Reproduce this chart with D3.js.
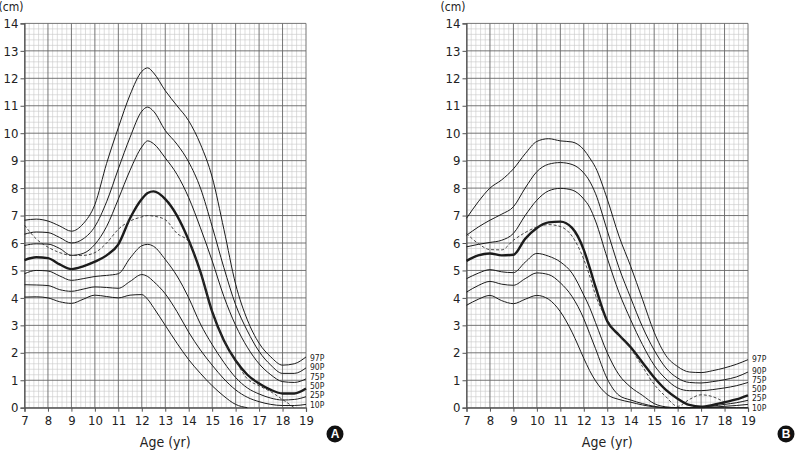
<!DOCTYPE html>
<html>
<head>
<meta charset="utf-8">
<script src="https://cdn.jsdelivr.net/npm/d3@7"></script>
<style>
  body { margin: 0; background: #fff; }
  svg { display: block; }
  text { font-family: 'Liberation Sans Narrow', 'DejaVu Sans Condensed', sans-serif; fill: #222; }
</style>
</head>
<body>
<svg width="796" height="451"></svg>
<script>
const ages = [7, 7.5, 8, 8.5, 9, 9.5, 10, 10.5, 11, 11.5, 12, 12.25, 12.5, 13, 13.5, 14, 14.5, 15, 15.5, 16, 16.5, 17, 17.5, 18, 18.5, 19];
const pctLabels = ['97P', '90P', '75P', '50P', '25P', '10P'];

// panel A
const a97 = [6.83, 6.87, 6.8, 6.62, 6.43, 6.7, 7.4, 8.9, 10.2, 11.4, 12.25, 12.38, 12.2, 11.55, 11.0, 10.45, 9.6, 8.4, 6.5, 4.5, 3.2, 2.35, 1.85, 1.55, 1.6, 1.85];
const a90 = [6.32, 6.4, 6.38, 6.2, 6.0, 6.15, 6.6, 7.5, 8.7, 9.85, 10.8, 10.95, 10.8, 10.1, 9.6, 8.95, 8.0, 6.6, 5.1, 3.75, 2.8, 2.05, 1.55, 1.25, 1.25, 1.45];
const a75 = [5.91, 5.97, 5.96, 5.8, 5.55, 5.62, 5.95, 6.6, 7.6, 8.65, 9.5, 9.72, 9.62, 9.1, 8.5, 7.65, 6.55, 5.35, 4.05, 3.0, 2.2, 1.6, 1.2, 0.95, 0.92, 1.05];
const a50 = [5.38, 5.48, 5.45, 5.22, 5.05, 5.15, 5.32, 5.55, 5.95, 6.9, 7.6, 7.82, 7.88, 7.6, 7.0, 6.1, 4.95, 3.5, 2.45, 1.72, 1.2, 0.88, 0.65, 0.52, 0.52, 0.7];
const a25 = [4.88, 5.0, 4.98, 4.8, 4.64, 4.7, 4.78, 4.82, 4.88, 5.45, 5.9, 5.95, 5.88, 5.4, 4.8, 4.0, 3.05, 2.3, 1.65, 1.1, 0.72, 0.5, 0.35, 0.28, 0.3, 0.4];
const a10 = [4.48, 4.47, 4.45, 4.3, 4.24, 4.32, 4.4, 4.38, 4.35, 4.6, 4.85, 4.78, 4.6, 4.15, 3.5, 2.75, 2.1, 1.55, 1.05, 0.65, 0.38, 0.22, 0.12, 0.08, 0.08, 0.12];
const a3 = [4.03, 4.04, 4.0, 3.86, 3.8, 3.95, 4.1, 4.05, 4.0, 4.1, 4.12, 3.95, 3.65, 3.0, 2.35, 1.75, 1.25, 0.8, 0.42, 0.12, 0, null, null, null, null, null];
const aDashed = [6.65, 6.15, 5.85, 5.65, 5.55, 5.55, 5.65, 6.0, 6.5, 6.8, 6.95, 7.0, 6.98, 6.85, 6.35, 6.05, 4.95, 3.5, 2.45, 1.72, 1.05, 0.8, 0.58, 0.3, 0, null];
const aLabelAt = [1.81, 1.48, 1.12, 0.79, 0.46, 0.1];

// panel B
const b97 = [6.9, 7.5, 8.0, 8.3, 8.7, 9.25, 9.7, 9.8, 9.72, 9.68, 9.4, 9.1, 8.75, 7.6, 6.25, 5.15, 3.95, 2.75, 1.9, 1.5, 1.3, 1.28, 1.35, 1.45, 1.58, 1.75];
const b90 = [6.28, 6.58, 6.83, 7.05, 7.32, 8.0, 8.6, 8.87, 8.93, 8.86, 8.55, 8.25, 7.8, 6.45, 5.1, 4.0, 2.95, 2.1, 1.45, 1.08, 0.92, 0.9, 0.95, 1.02, 1.12, 1.3];
const b75 = [5.86, 5.95, 6.02, 6.1, 6.35, 7.0, 7.56, 7.9, 7.99, 7.93, 7.6, 7.3, 6.8, 5.45, 4.2, 3.2, 2.3, 1.55, 1.05, 0.72, 0.62, 0.62, 0.66, 0.72, 0.8, 0.92];
const b50 = [5.35, 5.55, 5.62, 5.55, 5.57, 6.15, 6.55, 6.75, 6.78, 6.55, 5.75, 5.1, 4.4, 3.15, 2.65, 2.2, 1.65, 1.1, 0.65, 0.33, 0.1, 0.04, 0.1, 0.2, 0.3, 0.45];
const b25 = [4.7, 4.9, 5.03, 4.95, 4.92, 5.3, 5.62, 5.52, 5.31, 4.9, 4.1, 3.65, 3.1, 2.0, 1.2, 0.75, 0.45, 0.15, 0.03, 0, 0, 0.03, 0.06, 0.12, 0.18, 0.27];
const b10 = [4.21, 4.45, 4.6, 4.5, 4.46, 4.7, 4.91, 4.85, 4.55, 4.05, 3.24, 2.7, 2.15, 1.05, 0.45, 0.28, 0.15, 0.05, 0, 0, 0, 0, 0.02, 0.05, 0.08, 0.12];
const b3 = [3.73, 3.95, 4.09, 3.9, 3.79, 3.95, 4.09, 3.95, 3.5, 2.75, 1.8, 1.35, 0.98, 0.48, 0.3, 0.2, 0.1, 0.03, 0, 0, 0, 0, 0, 0, 0, 0];
const bDashed = [6.35, 5.98, 5.76, 5.75, 6.1, 6.38, 6.58, 6.67, 6.6, 6.25, 5.4, 4.8, 4.1, 3.2, 2.65, 2.15, 1.5, 0.85, 0.4, 0.05, 0.3, 0.47, 0.4, 0.2, null, null];
const bLabelAt = [1.76, 1.32, 1.0, 0.68, 0.34, 0.0];

const svg = d3.select('svg');

var plotTop = 23.4, plotBottom = 407.7, plotWidth = 281.5;

const yScale = d3.scaleLinear()
    .domain([0, 14])
    .range([plotBottom, plotTop]);

const drawPanel = function(x0, curves, dashed, labelAt, letter, badgeX) {

    var xScale = d3.scaleLinear()
        .domain([7, 19])
        .range([x0, x0 + plotWidth]);

    var g = svg.append('g');

    // minor grid (0.2 steps)
    var minorX = d3.range(7, 19.001, 0.2).filter(v => Math.abs(v - Math.round(v)) > 0.01);
    var minorY = d3.range(0, 14.001, 0.2).filter(v => Math.abs(v - Math.round(v)) > 0.01);

    g.selectAll('.minx').data(minorX).enter().append('line')
        .attr('x1', d => xScale(d)).attr('x2', d => xScale(d))
        .attr('y1', plotTop).attr('y2', plotBottom)
        .style('stroke', '#c8c8c8').style('stroke-width', 0.6);

    g.selectAll('.miny').data(minorY).enter().append('line')
        .attr('x1', x0).attr('x2', x0 + plotWidth)
        .attr('y1', d => yScale(d)).attr('y2', d => yScale(d))
        .style('stroke', '#c8c8c8').style('stroke-width', 0.6);

    // major grid
    g.selectAll('.majx').data(d3.range(7, 20)).enter().append('line')
        .attr('x1', d => xScale(d)).attr('x2', d => xScale(d))
        .attr('y1', plotTop).attr('y2', plotBottom)
        .style('stroke', '#666').style('stroke-width', 0.9);

    g.selectAll('.majy').data(d3.range(0, 15)).enter().append('line')
        .attr('x1', x0).attr('x2', x0 + plotWidth)
        .attr('y1', d => yScale(d)).attr('y2', d => yScale(d))
        .style('stroke', '#666').style('stroke-width', 0.9);

    // axes
    var xAxis = g.append('g')
        .attr('transform', `translate(0,${plotBottom})`)
        .call(d3.axisBottom(xScale).ticks(12).tickSize(4).tickPadding(4).tickFormat(d3.format('d')));
    var yAxis = g.append('g')
        .attr('transform', `translate(${x0},0)`)
        .call(d3.axisLeft(yScale).ticks(14).tickSize(4).tickPadding(2).tickFormat(d3.format('d')));

    [xAxis, yAxis].forEach(function(ax) {
        ax.select('.domain').style('stroke', '#555').style('stroke-width', 1.2);
        ax.selectAll('.tick line').style('stroke', '#555');
        ax.selectAll('text')
            .style('font-size', '13px')
            .style('font-family', "'Liberation Sans Narrow', 'DejaVu Sans Condensed', sans-serif")
            .style('fill', '#222');
    });

    g.append('text')
        .attr('x', x0 - 1)
        .attr('y', 11)
        .attr('text-anchor', 'end')
        .style('font-size', '12px')
        .text('(cm)');

    g.append('text')
        .attr('x', xScale(13))
        .attr('y', 447)
        .attr('text-anchor', 'middle')
        .style('font-size', '14px')
        .text('Age (yr)');

    // percentile curves
    var line = d3.line()
        .defined(d => d[1] != null)
        .x(d => xScale(d[0]))
        .y(d => yScale(d[1]))
        .curve(d3.curveMonotoneX);

    curves.forEach(function(vals, i) {
        g.append('path')
            .datum(ages.map((a, j) => [a, vals[j]]))
            .attr('d', line)
            .style('fill', 'none')
            .style('stroke', '#1b1b1b')
            .style('stroke-width', i === 3 ? 2.4 : 1);
    });

    g.append('path')
        .datum(ages.map((a, j) => [a, dashed[j]]))
        .attr('d', line)
        .style('fill', 'none')
        .style('stroke', '#333')
        .style('stroke-width', 0.9)
        .style('stroke-dasharray', '3,2');

    // right hand labels
    g.selectAll('.plabel').data(pctLabels).enter().append('text')
        .attr('x', x0 + plotWidth + 4)
        .attr('y', (d, i) => yScale(labelAt[i]))
        .attr('dy', '0.35em')
        .style('font-size', '8.5px')
        .text(d => d);

    // panel letter
    g.append('circle')
        .attr('cx', badgeX)
        .attr('cy', 434)
        .attr('r', 8.5)
        .style('fill', '#111');
    g.append('text')
        .attr('x', badgeX)
        .attr('y', 434)
        .attr('dy', '0.36em')
        .attr('text-anchor', 'middle')
        .style('font-family', "'Liberation Sans', Arial, sans-serif")
        .style('font-weight', 'bold')
        .style('font-size', '12px')
        .style('fill', '#fff')
        .text(letter);
};

drawPanel(24.5, [a97, a90, a75, a50, a25, a10, a3], aDashed, aLabelAt, 'A', 335);
drawPanel(466.5, [b97, b90, b75, b50, b25, b10, b3], bDashed, bLabelAt, 'B', 786);
</script>
</body>
</html>
